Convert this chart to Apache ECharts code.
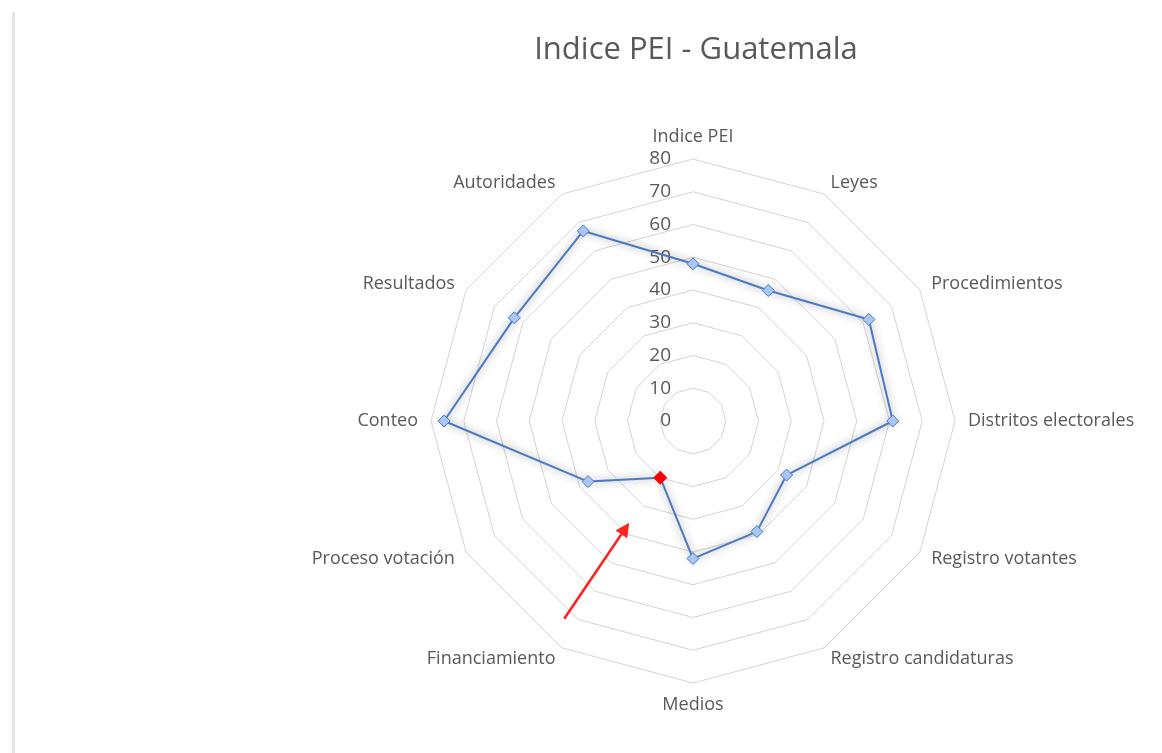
<!DOCTYPE html>
<html>
<head>
<meta charset="utf-8">
<script src="https://cdn.jsdelivr.net/npm/echarts@6/dist/echarts.min.js"></script>
<style>
  html, body { margin: 0; padding: 0; background: #fff; }
  #chartId1 { width: 1162px; height: 753px; }
</style>
</head>
<body>
<div id="chartId1"></div>
<script>
// indicadores en orden horario, empezando arriba
var indicators = ['Indice PEI', 'Leyes', 'Procedimientos', 'Distritos electorales', 'Registro votantes',
  'Registro candidaturas', 'Medios', 'Financiamiento', 'Proceso votación', 'Conteo', 'Resultados', 'Autoridades'];
var peiValues = [48, 46, 62, 61, 33, 39, 42, 20, 37, 76, 63, 67];
var highlightName = 'Financiamiento';
var axisMax = 80;

// ECharts dibuja el radar en sentido antihorario: invertimos el orden (menos el primero)
var order = [0];
for (var i = indicators.length - 1; i > 0; i--) order.push(i);
var indOpt = order.map(function (k, j) {
  var o = { name: indicators[k], min: 0, max: axisMax };
  if (j === 0) o.axisLabel = { show: true };
  return o;
});
var vals = order.map(function (k) { return peiValues[k]; });

var myChart = echarts.init(document.getElementById('chartId1'));
var textColor = '#595959';
var font = '"Open Sans", Lato, sans-serif';

var option = {
  backgroundColor: '#fff',
  animation: false,
  title: {
    text: 'Indice PEI - Guatemala',
    left: 691,
    textAlign: 'center',
    top: 30,
    textStyle: { color: textColor, fontSize: 31, fontWeight: 'normal', fontFamily: font }
  },
  radar: {
    center: [693, 421],
    radius: 262,
    startAngle: 90,
    shape: 'polygon',
    splitNumber: 8,
    indicator: indOpt,
    axisName: { color: textColor, fontSize: 18, fontFamily: font },
    nameGap: 13,
    axisLine: { show: false },
    axisTick: { show: false },
    axisLabel: { show: false, color: textColor, fontSize: 19, fontFamily: font, margin: 22 },
    splitLine: { lineStyle: { color: '#d4d4d4', width: 1 } },
    splitArea: { show: false }
  },
  series: [{
    type: 'radar',
    symbol: 'diamond',
    symbolSize: 12,
    lineStyle: {
      color: '#4a7ac4', width: 2,
      shadowColor: 'rgba(0,0,0,0.45)', shadowBlur: 8
    },
    itemStyle: { color: '#a9c6f5', borderColor: '#4a7ac4', borderWidth: 1 },
    data: [{ name: 'Indice PEI', value: vals }]
  }]
};
myChart.setOption(option);

// marcador rojo y flecha sobre el indicador destacado
var hi = order.indexOf(indicators.indexOf(highlightName));
var cs = myChart.getModel().getComponent('radar', 0).coordinateSystem;
var p = cs.dataToPoint(vals[hi], hi);
var tip = [p[0] - 31, p[1] + 45];
var tail = [p[0] - 96, p[1] + 141];
var ang = Math.atan2(tip[1] - tail[1], tip[0] - tail[0]);
var L = 14, W = 7;
var base = [tip[0] - L * Math.cos(ang), tip[1] - L * Math.sin(ang)];
myChart.setOption({
  graphic: [
    { type: 'rect', shape: { x: 12, y: 12, width: 3, height: 760 }, style: { fill: '#e3e3e3' } },
    {
      type: 'polygon', z: 100,
      shape: { points: [[p[0], p[1] - 7], [p[0] + 7, p[1]], [p[0], p[1] + 7], [p[0] - 7, p[1]]] },
      style: { fill: '#ff0000' }
    },
    {
      type: 'line', z: 100,
      shape: { x1: tail[0], y1: tail[1], x2: base[0], y2: base[1] },
      style: { stroke: '#ff2020', lineWidth: 2.5 }
    },
    {
      type: 'polygon', z: 100,
      shape: {
        points: [tip,
          [base[0] + W * Math.sin(ang), base[1] - W * Math.cos(ang)],
          [base[0] - W * Math.sin(ang), base[1] + W * Math.cos(ang)]]
      },
      style: { fill: '#ff2020' }
    }
  ]
});
</script>
</body>
</html>
